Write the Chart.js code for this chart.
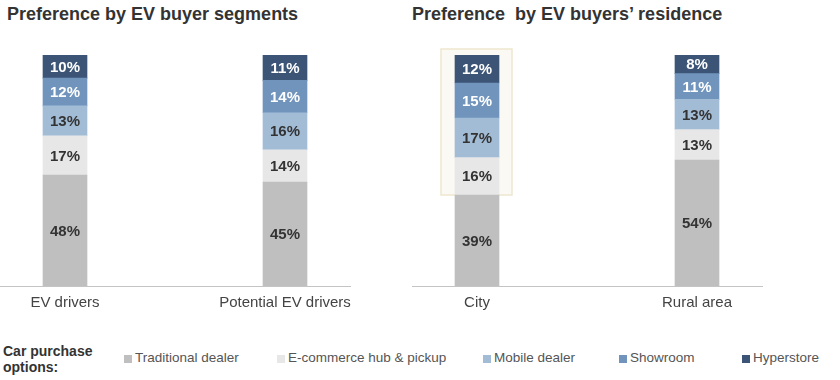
<!DOCTYPE html>
<html>
<head>
<meta charset="utf-8">
<script src="https://cdn.jsdelivr.net/npm/chart.js@4.4.0/dist/chart.umd.min.js"></script>
<style>
  body { margin: 0; background: #fff; font-family: "Liberation Sans", Arial, sans-serif; }
  #wrap { position: relative; width: 840px; height: 380px; overflow: hidden; }
  .title { position: absolute; top: 3px; font-size: 18px; font-weight: bold; color: #333; line-height: 22px; white-space: pre; }
  .panel { position: absolute; top: 0; }
  .legend-head { position: absolute; left: 3px; top: 343px; font-size: 14px; font-weight: bold; color: #333; line-height: 16px; }
  .legend-item { position: absolute; top: 350px; font-size: 13.5px; color: #555; line-height: 16px; white-space: nowrap; }
  .legend-item i { display: inline-block; width: 8px; height: 8px; margin-right: 3px; vertical-align: -0.5px; }
</style>
</head>
<body>
<div id="wrap">
  <div class="title" style="left:7px">Preference by EV buyer segments</div>
  <div class="title" style="left:412px">Preference  by EV buyers’ residence</div>
  <div class="panel" style="left:0"><canvas id="segChart" width="370" height="330"></canvas></div>
  <div class="panel" style="left:412px"><canvas id="resChart" width="370" height="330"></canvas></div>
  <div class="legend-head">Car purchase<br>options:</div>
  <div id="legend"></div>
</div>
<script>
// Purchase options (stack order bottom -> top)
const optionNames = ['Traditional dealer', 'E-commerce hub & pickup', 'Mobile dealer', 'Showroom', 'Hyperstore'];
const optionColors = ['#bfbfbf', '#e7e7e7', '#a3bcd6', '#7194bd', '#3c5577'];
const labelColors = ['#333333', '#333333', '#333333', '#ffffff', '#ffffff'];
const legendLeft = [124, 277, 483, 619, 742];

// Left panel: by EV buyer segments
const segmentCats = ['EV drivers', 'Potential EV drivers'];
const segTraditional = [48, 45];
const segEcommerce = [17, 14];
const segMobile = [13, 16];
const segShowroom = [12, 14];
const segHyperstore = [10, 11];

// Right panel: by EV buyers' residence
const residenceCats = ['City', 'Rural area'];
const resTraditional = [39, 54];
const resEcommerce = [16, 13];
const resMobile = [17, 13];
const resShowroom = [15, 11];
const resHyperstore = [12, 8];

// draws the % inside each segment
const valueLabels = {
  id: 'valueLabels',
  afterDatasetsDraw(chart) {
    const ctx = chart.ctx;
    ctx.save();
    ctx.font = 'bold 15px "Liberation Sans", Arial, sans-serif';
    ctx.textAlign = 'center';
    ctx.textBaseline = 'middle';
    chart.data.datasets.forEach((ds, i) => {
      chart.getDatasetMeta(i).data.forEach((bar, j) => {
        ctx.fillStyle = labelColors[i];
        ctx.fillText(ds.data[j] + '%', bar.x, (bar.y + bar.base) / 2 + 1);
      });
    });
    ctx.restore();
  }
};

// highlight box behind the city bar (everything above traditional dealer)
const cityHighlight = {
  id: 'cityHighlight',
  beforeDatasetsDraw(chart) {
    const bottomMeta = chart.getDatasetMeta(0);
    const topMeta = chart.getDatasetMeta(chart.data.datasets.length - 1);
    const b = bottomMeta.data[0], t = topMeta.data[0];
    if (!b || !t) return;
    const ctx = chart.ctx;
    const x0 = b.x - 36, x1 = b.x + 35;
    const y0 = t.y - 6, y1 = b.y;
    ctx.save();
    ctx.fillStyle = '#fbf9f3';
    ctx.strokeStyle = '#eee6cf';
    ctx.lineWidth = 1.5;
    ctx.fillRect(x0, y0, x1 - x0, y1 - y0);
    ctx.strokeRect(x0, y0, x1 - x0, y1 - y0);
    ctx.restore();
  }
};

function buildDatasets(series) {
  return series.map((data, i) => ({
    label: optionNames[i],
    data: data,
    backgroundColor: optionColors[i],
    borderWidth: 0,
    barThickness: 44
  }));
}

function makeChart(id, cats, series, yMax, extraPlugins) {
  const ctx = document.getElementById(id).getContext('2d');
  return new Chart(ctx, {
    type: 'bar',
    data: {
      labels: cats.map((c, i) => i),
      datasets: buildDatasets(series)
    },
    options: {
      responsive: false,
      animation: false,
      layout: { padding: { left: 0, right: 20, top: 55, bottom: 10 } },
      plugins: {
        legend: { display: false },
        tooltip: { enabled: false },
        title: { display: false }
      },
      scales: {
        x: {
          type: 'linear',
          stacked: true,
          offset: false,
          min: -65 / 220,
          max: 1 + 65 / 220,
          afterBuildTicks(scale) {
            scale.ticks = cats.map((c, i) => ({ value: i }));
          },
          grid: { display: false, drawTicks: false },
          border: { display: true, color: '#c4c4c4', width: 1 },
          ticks: {
            padding: 8,
            color: '#444',
            font: { family: '"Liberation Sans", Arial, sans-serif', size: 15 },
            callback: (v) => cats[v]
          }
        },
        y: {
          stacked: true,
          display: false,
          min: 0,
          max: yMax
        }
      }
    },
    plugins: [valueLabels].concat(extraPlugins || [])
  });
}

makeChart('segChart', segmentCats,
  [segTraditional, segEcommerce, segMobile, segShowroom, segHyperstore], 100);
makeChart('resChart', residenceCats,
  [resTraditional, resEcommerce, resMobile, resShowroom, resHyperstore], 99, [cityHighlight]);

// legend row
const legend = document.getElementById('legend');
optionNames.forEach((name, i) => {
  const item = document.createElement('div');
  item.className = 'legend-item';
  item.style.left = legendLeft[i] + 'px';
  item.innerHTML = '<i style="background:' + optionColors[i] + '"></i>';
  item.appendChild(document.createTextNode(name));
  legend.appendChild(item);
});
</script>
</body>
</html>
